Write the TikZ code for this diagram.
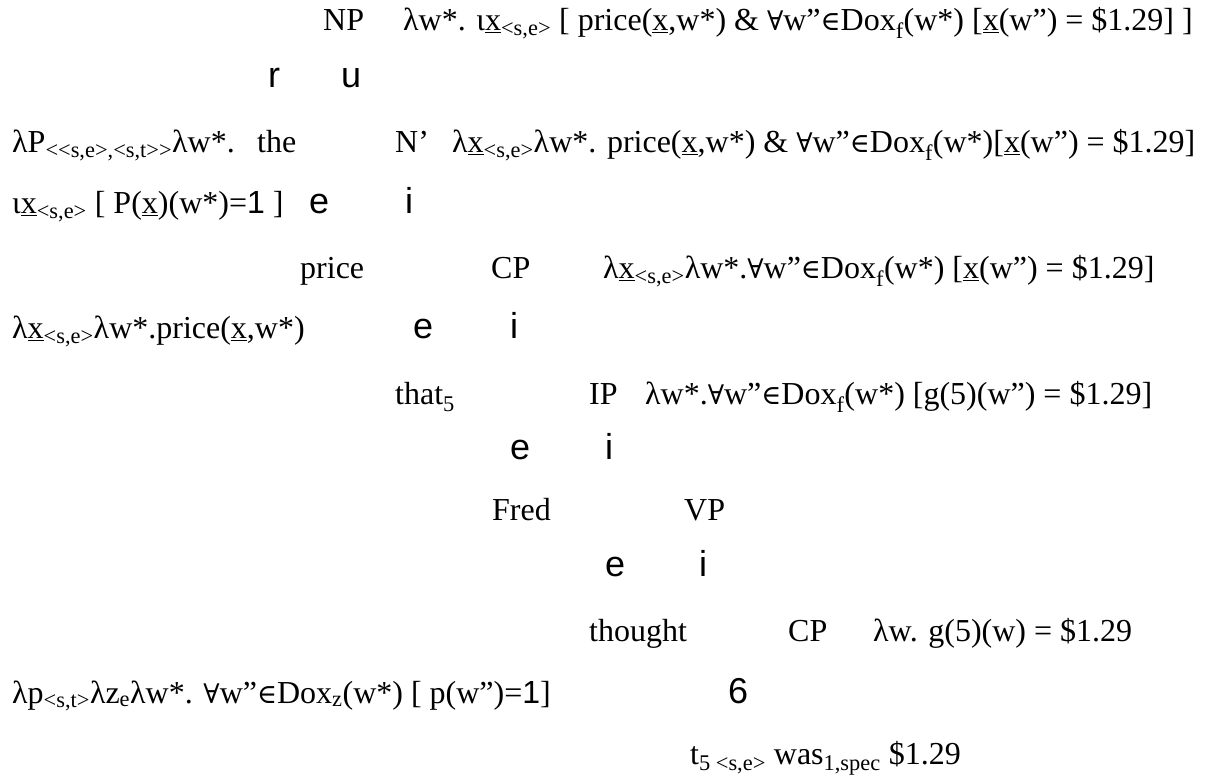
\documentclass[tikz,border=0pt]{standalone}
\usepackage{fontspec}
\setmainfont{Liberation Serif}
\newfontfamily\brf{Liberation Sans}
\newfontfamily\symf{DejaVu Serif}
\newcommand\ux{\underline{x}}
\newcommand\sse{\textsubscript{<s,e>}}
\newcommand\one{{\brf 1}}
\newcommand\fa{{\symf\fontsize{27}{30}\selectfont ∀}}
\newcommand\el{{\symf\fontsize{27}{30}\selectfont ∈}}
\begin{document}
\begin{tikzpicture}[x=1pt,y=1pt,
  t/.style={anchor=base west, inner sep=0pt, font=\fontsize{32}{38}\selectfont},
  br/.style={anchor=base west, inner sep=0pt, font=\brf\fontsize{36}{40}\selectfont}]
\useasboundingbox (0,0) rectangle (1209,777);
\fill[white] (0,0) rectangle (1209,777);
% row 1 (baseline 31)
\node[t] (np) at (323,746) {NP};
\node[t] (npsem) at (403,746) {λw*. ι\ux\sse{} [ price(\ux,w*) \& \fa w”\el Dox\textsubscript{f}(w*) [\ux(w”) = \$1.29] ]};
% row 2
\node[br] (br1l) at (268,689) {r};
\node[br] (br1r) at (341,689) {u};
% row 3 (baseline 153)
\node[t] (detsem) at (12,624) {λP\textsubscript{<{}<s,e>,<s,t>{}>}λw*.};
\node[t] (the) at (257,624) {the};
\node[t] (nbar) at (395,624) {N’};
\node[t] (nbarsem) at (452,624) {λ\ux\sse λw*. price(\ux,w*) \& \fa w”\el Dox\textsubscript{f}(w*)[\ux(w”) = \$1.29]};
% row 4 (baseline 214)
\node[t] (detsem2) at (12,563) {ι\ux\sse{} [ P(\ux)(w*)=\one{} ]};
\node[br] (br2l) at (309,563) {e};
\node[br] (br2r) at (405,563) {i};
% row 5 (baseline 279)
\node[t] (price) at (300,498) {price};
\node[t] (cp1) at (491,498) {CP};
\node[t] (cp1sem) at (603,498) {λ\ux\sse λw*.\fa w”\el Dox\textsubscript{f}(w*) [\ux(w”) = \$1.29]};
% row 6 (baseline 339)
\node[t] (pricesem) at (12,438) {λ\ux\sse λw*.price(\ux,w*)};
\node[br] (br3l) at (413,438) {e};
\node[br] (br3r) at (510,438) {i};
% row 7 (baseline 405)
\node[t] (that) at (395,372) {that\textsubscript{5}};
\node[t] (ip) at (589,372) {IP};
\node[t] (ipsem) at (645,372) {λw*.\fa w”\el Dox\textsubscript{f}(w*) [g(5)(w”) = \$1.29]};
% row 8 (baseline 459)
\node[br] (br4l) at (510,318) {e};
\node[br] (br4r) at (605,318) {i};
% row 9 (baseline 520)
\node[t] (fred) at (492,257) {Fred};
\node[t] (vp) at (684,257) {VP};
% row 10 (baseline 576)
\node[br] (br5l) at (605,201) {e};
\node[br] (br5r) at (699,201) {i};
% row 11 (baseline 641)
\node[t] (thought) at (589,136) {thought};
\node[t] (cp2) at (788,136) {CP};
\node[t] (cp2sem) at (873,136) {λw. g(5)(w) = \$1.29};
% row 12 (baseline 703)
\node[t] (thoughtsem) at (12,74) {λp\textsubscript{<s,t>}λz\textsubscript{e}λw*. \fa w”\el Dox\textsubscript{z}(w*) [ p(w”)=\one]};
\node[br] (tri) at (728,74) {6};
% row 13 (baseline 764)
\node[t] (trace) at (690,13) {t\textsubscript{5 <s,e>} was\textsubscript{1,spec} \$1.29};
\end{tikzpicture}
\end{document}
